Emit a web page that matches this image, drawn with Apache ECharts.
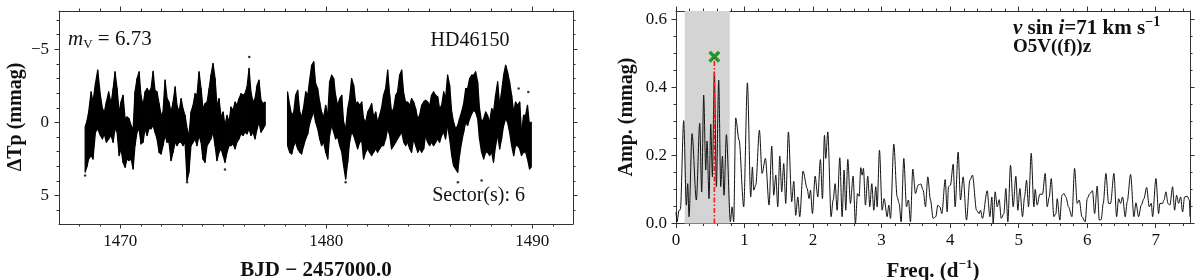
<!DOCTYPE html>
<html><head><meta charset="utf-8">
<script src="https://cdn.jsdelivr.net/npm/echarts@6/dist/echarts.min.js"></script>
<style>html,body{margin:0;padding:0;background:#fff}#c{width:1200px;height:280px}</style>
</head><body><div id="c"></div>
<script>
// ---------------- Light curve (TESS Sector 6), envelope of the point cloud per time bin ----------------
const lcTime = [
 1468.29,1468.38,1468.46,1468.58,1468.67,1468.79,1468.90,1469.03,1469.13,1469.22,
 1469.32,1469.43,1469.55,1469.65,1469.74,1469.84,1469.94,1470.03,1470.13,1470.23,
 1470.32,1470.42,1470.52,1470.62,1470.71,1470.81,1470.91,1471.00,1471.10,1471.20,
 1471.30,1471.39,1471.49,1471.59,1471.68,1471.78,1471.88,1471.98,1472.07,1472.17,
 1472.27,1472.36,1472.46,1472.56,1472.66,1472.75,1472.85,1472.95,1473.04,1473.14,
 1473.24,1473.33,1473.43,1473.53,1473.63,1473.72,1473.82,1473.92,1474.01,1474.11,
 1474.21,1474.31,1474.40,1474.50,1474.60,1474.69,1474.79,1474.89,1474.99,1475.08,
 1475.18,1475.28,1475.37,1475.47,1475.57,1475.66,1475.76,1475.86,1475.96,1476.05,
 1476.15,1476.25,1476.34,1476.44,1476.54,1476.64,1476.73,1476.83,1476.93,1477.02,
 1478.12,1478.22,1478.32,1478.42,1478.51,1478.61,1478.71,1478.80,1478.90,1479.00,
 1479.10,1479.19,1479.29,1479.39,1479.48,1479.58,1479.68,1479.77,1479.87,1479.97,
 1480.07,1480.16,1480.26,1480.36,1480.45,1480.55,1480.65,1480.75,1480.84,1480.94,
 1481.04,1481.13,1481.23,1481.33,1481.43,1481.52,1481.62,1481.72,1481.81,1481.91,
 1482.01,1482.10,1482.20,1482.30,1482.40,1482.49,1482.59,1482.69,1482.78,1482.88,
 1482.98,1483.08,1483.17,1483.27,1483.37,1483.46,1483.56,1483.66,1483.76,1483.85,
 1483.95,1484.05,1484.14,1484.24,1484.34,1484.44,1484.53,1484.63,1484.73,1484.82,
 1484.92,1485.02,1485.11,1485.21,1485.31,1485.41,1485.50,1485.60,1485.70,1485.79,
 1485.89,1485.99,1486.09,1486.18,1486.28,1486.38,1486.47,1486.57,1486.67,1486.77,
 1486.86,1486.96,1487.06,1487.15,1487.25,1487.35,1487.44,1487.54,1487.64,1487.74,
 1487.83,1487.93,1488.03,1488.12,1488.22,1488.32,1488.42,1488.51,1488.61,1488.71,
 1488.80,1488.90,1489.00,1489.10,1489.19,1489.29,1489.39,1489.48,1489.58,1489.68,
 1489.77,1489.87,1489.94
];
// brightest (most negative) edge of the cloud
const lcTop = [
 0.30,-0.10,-0.71,-2.08,-1.39,-2.65,-3.56,-1.85,-0.94,-0.71,
 -1.39,-2.08,-1.28,-2.31,-3.45,-2.31,-0.71,-1.39,-1.85,-0.25,
 -0.37,-0.25,0.21,0.43,-2.08,-2.99,-3.45,-1.85,-1.16,-2.08,
 -2.31,-2.08,-2.31,-3.49,-2.19,-2.08,-1.28,-0.48,-0.71,-2.88,
 -1.62,-1.39,-0.71,-1.39,-2.42,-1.16,-0.71,-1.62,-0.94,-0.48,
 0.43,0.89,-0.71,-1.16,-1.96,-1.85,-3.45,-2.31,-0.94,-1.28,
 -1.39,-2.31,-3.22,-4.02,-2.99,-1.16,-1.62,-0.37,-0.71,0.21,
 -0.48,-0.02,-1.05,-0.82,-1.39,-1.16,-1.62,-1.96,-1.85,-1.96,
 -2.42,-3.68,-2.08,-1.39,-1.62,-2.53,-2.88,-1.51,-1.28,-1.39,
 -2.08,-1.16,-0.48,-0.71,-1.85,-2.19,-0.71,-0.37,-1.05,-2.08,
 -1.85,-2.88,-3.90,-4.13,-2.65,-2.31,-1.39,-0.71,-0.37,-1.16,
 -0.48,-2.76,-3.22,-2.99,-1.85,-1.16,-1.62,-1.85,-0.02,0.43,
 -0.94,-1.62,-2.99,-2.53,-1.28,-1.39,-1.16,-1.39,-0.25,-0.02,
 -0.71,-0.94,-1.28,-0.37,-0.71,-0.02,-0.48,-1.05,-1.85,-2.31,
 -3.56,-1.85,-0.71,-0.94,-1.85,-2.08,-3.22,-3.56,-1.96,-1.39,
 -1.39,-1.16,-1.62,-1.39,-0.94,-0.25,-0.48,-1.16,-1.39,-1.51,
 -1.39,-1.16,-1.85,-2.08,-1.85,-1.74,-0.94,-1.16,-2.08,-1.62,
 -3.22,-2.53,-0.71,-0.02,0.43,0.21,-0.25,-0.71,-1.28,-2.31,
 -2.31,-2.99,-3.22,-3.22,-3.45,-2.76,-0.94,-0.02,-0.25,-0.71,
 -0.48,-0.02,-0.94,-0.71,-1.85,-2.76,-1.16,-2.08,-3.22,-3.90,
 -3.45,-2.76,-1.85,-0.71,-1.39,-1.16,-1.39,0.66,-0.48,-0.48,
 -1.16,0.21,-0.02
];
// faintest (most positive) edge of the cloud
const lcBottom = [
 3.40,3.00,2.49,2.26,2.49,0.66,0.43,0.89,1.12,0.78,
 1.35,1.12,0.89,1.35,0.43,0.66,2.26,1.80,2.72,3.06,
 2.49,2.60,2.49,3.17,1.58,0.66,0.43,1.46,1.35,0.43,
 0.89,0.43,0.43,0.21,0.66,1.12,2.03,2.15,1.58,0.89,
 1.35,1.35,2.60,2.03,1.35,1.58,1.35,1.35,1.58,1.35,
 3.97,3.40,1.58,1.35,1.12,1.58,0.89,1.35,2.49,2.72,
 1.58,1.35,1.12,0.66,1.58,2.60,2.03,1.80,2.26,2.72,
 2.03,1.58,1.58,1.46,1.80,1.35,1.12,0.78,0.89,0.66,
 0.78,0.43,0.89,0.66,1.12,0.43,-0.02,0.66,0.43,0.21,
 1.58,2.03,2.15,1.58,1.35,1.80,2.03,2.15,1.58,1.12,
 0.78,0.09,-0.37,-0.71,-0.02,0.43,1.12,1.58,1.35,2.03,
 2.49,0.89,0.21,0.66,1.12,1.00,1.58,2.03,2.95,3.86,
 2.72,1.35,0.66,0.89,1.35,1.80,1.35,1.23,2.49,2.03,
 1.80,2.03,2.26,2.03,1.80,2.03,1.80,1.58,1.58,1.12,
 0.43,0.89,1.80,1.58,1.35,1.12,0.89,0.66,1.35,1.58,
 1.35,1.80,2.03,1.12,1.58,2.03,1.80,2.03,1.80,0.89,
 1.35,1.58,1.35,1.58,1.35,1.12,1.35,0.89,0.66,1.12,
 0.21,1.12,2.26,2.95,3.17,3.40,2.26,1.35,0.66,-0.02,
 0.21,-0.25,-0.59,-0.82,-0.71,-0.25,1.12,2.03,2.49,2.03,
 2.03,2.26,2.03,2.72,1.58,0.89,1.80,1.12,0.21,-0.25,
 -0.02,0.66,1.58,2.26,1.58,1.58,1.80,2.26,2.03,2.03,
 2.49,3.17,3.06
];
// isolated points outside the dense cloud
const outTime = [1468.29, 1473.24, 1475.08, 1476.26, 1480.94, 1486.39, 1487.54, 1489.34, 1489.81];
const outDmag = [3.63, 4.09, 3.22, -4.47, 4.09, 4.09, 3.97, -2.31, -2.08];

// ---------------- Amplitude spectrum ----------------
const freq = [
 0,0.015,0.044,0.064,0.112,0.151,0.171,0.19,0.234,0.297,
 0.346,0.375,0.404,0.434,0.453,0.482,0.507,0.531,0.56,0.589,
 0.623,0.653,0.677,0.701,0.735,0.794,0.818,0.842,0.871,0.92,
 0.988,1.042,1.09,1.115,1.134,1.164,1.217,1.256,1.305,1.358,
 1.397,1.426,1.456,1.485,1.514,1.543,1.572,1.601,1.64,1.689,
 1.718,1.747,1.777,1.806,1.854,1.913,1.942,1.962,1.991,2.03,
 2.069,2.107,2.137,2.166,2.185,2.215,2.263,2.293,2.322,2.351,
 2.39,2.424,2.453,2.477,2.507,2.545,2.584,2.618,2.648,2.672,
 2.696,2.716,2.735,2.764,2.798,2.828,2.857,2.886,2.915,2.935,
 2.969,3.008,3.037,3.081,3.105,3.13,3.178,3.227,3.256,3.285,
 3.324,3.363,3.392,3.421,3.455,3.494,3.533,3.572,3.606,3.64,
 3.674,3.713,3.752,3.791,3.82,3.85,3.879,3.928,3.957,3.976,
 4.005,4.044,4.073,4.117,4.151,4.19,4.239,4.288,4.326,4.385,
 4.424,4.443,4.472,4.541,4.58,4.609,4.628,4.657,4.687,4.716,
 4.745,4.784,4.813,4.842,4.881,4.92,4.959,4.988,5.017,5.056,
 5.086,5.115,5.144,5.183,5.222,5.241,5.27,5.309,5.348,5.387,
 5.416,5.446,5.475,5.514,5.543,5.562,5.601,5.631,5.66,5.689,
 5.728,5.777,5.816,5.854,5.884,5.923,5.971,6.0,6.039,6.078,
 6.108,6.146,6.176,6.205,6.234,6.273,6.312,6.341,6.39,6.429,
 6.458,6.487,6.516,6.555,6.584,6.633,6.682,6.711,6.75,6.789,
 6.828,6.867,6.906,6.935,6.954,7.003,7.042,7.061,7.1,7.12,
 7.149,7.178,7.207,7.246,7.275,7.304,7.334,7.363,7.392,7.421,
 7.46,7.49,7.5
];
const amp = [
 0.034,0.005,0.039,0.041,0.302,0.054,0.117,0.02,0.264,0.069,
 0.294,0.093,0.377,0.157,0.242,0.073,0.292,0.137,0.445,0.108,
 0.421,0.108,0.198,0.083,0.261,0.005,0.049,0.005,0.31,0.245,
 0.049,0.413,0.078,0.166,0.098,0.113,0.274,0.147,0.191,0.054,
 0.227,0.083,0.142,0.049,0.198,0.093,0.176,0.059,0.269,0.064,
 0.124,0.024,0.078,0.02,0.154,0.103,0.073,0.098,0.029,0.139,
 0.078,0.188,0.073,0.259,0.191,0.269,0.02,0.069,0.117,0.039,
 0.193,0.02,0.157,0.039,0.188,0.059,0.139,0.0,0.088,0.08,
 0.164,0.142,0.162,0.054,0.139,0.049,0.117,0.039,0.108,0.049,
 0.215,0.039,0.073,0.02,0.054,0.015,0.233,0.078,0.059,0.005,
 0.191,0.049,0.069,0.005,0.16,0.088,0.113,0.116,0.098,0.049,
 0.137,0.069,0.015,0.02,0.054,0.049,0.029,0.129,0.034,0.108,
 0.113,0.174,0.049,0.21,0.069,0.137,0.01,0.127,0.142,0.039,
 0.029,0.039,0.015,0.096,0.02,0.078,0.0,0.093,0.049,0.07,
 0.015,0.029,0.103,0.005,0.171,0.049,0.139,0.039,0.103,0.02,
 0.078,0.127,0.049,0.206,0.049,0.1,0.054,0.086,0.086,0.147,
 0.049,0.078,0.132,0.02,0.029,0.073,0.01,0.083,0.088,0.078,
 0.049,0.02,0.162,0.059,0.069,0.02,0.005,0.073,0.088,0.096,
 0.029,0.11,0.01,0.012,0.059,0.147,0.059,0.059,0.147,0.02,
 0.073,0.059,0.078,0.02,0.064,0.144,0.02,0.061,0.02,0.054,
 0.073,0.106,0.049,0.059,0.02,0.132,0.029,0.059,0.059,0.069,
 0.093,0.059,0.054,0.108,0.039,0.083,0.059,0.078,0.034,0.078,
 0.08,0.069,0.02
];
// dominant frequency, its marker and the shaded low-frequency region
const peakFreq = [0.56];
const peakMarkerAmp = [0.49];
const bandRange = [0.127, 0.784];

// ---------------- Axes ----------------
const lcRangeX = [1467.02, 1491.98];
const lcRangeY = [-7.6, 6.93];
const lcTicksX = [1470, 1480, 1490];
const lcTicksY = [-5, 0, 5];
const pgRangeX = [0, 7.5];
const pgRangeY = [0, 0.624];
const pgTicksX = [0, 1, 2, 3, 4, 5, 6, 7];
const pgTicksY = [0, 0.2, 0.4, 0.6];

function stepTicks(a, b, s) { const r = []; for (let k = Math.ceil(a / s - 1e-9); k * s <= b + 1e-9; k++) r.push(+(k * s).toFixed(4)); return r; }
const lcMinorX = stepTicks(lcRangeX[0], lcRangeX[1], 1);
const lcMinorY = stepTicks(lcRangeY[0], lcRangeY[1], 1);
const pgMinorX = stepTicks(pgRangeX[0], pgRangeX[1], 0.2);
const pgMinorY = stepTicks(pgRangeY[0], pgRangeY[1], 0.05);

const FONT = 'Liberation Serif';
const AX = '#333';
const TXT = '#111';

function makeAxes(dim, gi, range, major, minor, nameCfg, inverse) {
  const positions = dim === 'x' ? ['bottom', 'top'] : ['left', 'right'];
  const out = [];
  positions.forEach((pos, pi) => {
    [major, minor].forEach((ticks, ti) => {
      const ax = {
        type: 'value', gridIndex: gi, position: pos, min: range[0], max: range[1], inverse: !!inverse,
        axisLine: { show: ti === 0, onZero: false, lineStyle: { color: AX, width: 1 } },
        axisTick: { show: true, customValues: ticks, length: ti === 0 ? 4.5 : 2.5, lineStyle: { color: AX, width: 1 } },
        axisLabel: { show: false },
        splitLine: { show: false }
      };
      if (pi === 0 && ti === 0 && nameCfg) Object.assign(ax, nameCfg);
      out.push(ax);
    });
  });
  return out;
}

const minusFmt = v => (v < 0 ? '\u2212' + Math.abs(v) : String(v));
const oneDec = v => Number(v).toFixed(1);
const plain = v => String(v);

const xAxes = [].concat(
  makeAxes('x', 0, lcRangeX, lcTicksX, lcMinorX, {
    name: 'BJD \u2212 2457000.0', nameLocation: 'middle', nameGap: 36,
    nameTextStyle: { fontFamily: FONT, fontSize: 21, fontWeight: 'bold', color: TXT }
  }),
  makeAxes('x', 1, pgRangeX, pgTicksX, pgMinorX, {
    name: '{a|Freq. (d}{s|\u22121}{a|)}', nameLocation: 'middle', nameGap: 35,
    nameTextStyle: { fontFamily: FONT, fontSize: 21, fontWeight: 'bold', color: TXT, rich: {
      a: { fontFamily: FONT, fontSize: 21, fontWeight: 'bold', color: TXT, lineHeight: 24, verticalAlign: 'bottom' },
      s: { fontFamily: FONT, fontSize: 13, fontWeight: 'bold', color: TXT, lineHeight: 13, verticalAlign: 'top' } } }
  })
);
const yAxes = [].concat(
  makeAxes('y', 0, lcRangeY, lcTicksY, lcMinorY, null, true),
  makeAxes('y', 1, pgRangeY, pgTicksY, pgMinorY, null)
);

const lcData = lcTime.map((t, i) => [t, lcTop[i], lcBottom[i]]);
const outData = outTime.map((t, i) => [t, outDmag[i]]);
const pgData = freq.map((f, i) => [f, amp[i]]);

// filled envelope between consecutive bins (a gap larger than half a day breaks it)
function renderCloud(params, api) {
  const i = params.dataIndex;
  const t0 = api.value(0), a0 = api.value(1), b0 = api.value(2);
  const nxt = lcData[i + 1];
  if (!nxt || nxt[0] - t0 > 0.5) {
    const p = api.coord([t0, a0]), q = api.coord([t0, b0]);
    return { type: 'line', shape: { x1: p[0], y1: p[1], x2: q[0], y2: q[1] }, style: { stroke: '#000', lineWidth: 1.5 } };
  }
  const pts = [api.coord([t0, a0]), api.coord([nxt[0], nxt[1]]), api.coord([nxt[0], nxt[2]]), api.coord([t0, b0])];
  return { type: 'polygon', shape: { points: pts }, style: { fill: '#000', stroke: '#000', lineWidth: 1.2, lineJoin: 'round' } };
}

// tick labels placed through the axes' own scales
function tickLabelSeries(xi, yi, dim, values, anchor, fmt, offset) {
  return {
    type: 'custom', xAxisIndex: xi, yAxisIndex: yi, silent: true, clip: false, z: 10,
    data: values.map(v => dim === 'x' ? [v, anchor] : [anchor, v]),
    renderItem: (params, api) => {
      const p = api.coord([api.value(0), api.value(1)]);
      const v = dim === 'x' ? api.value(0) : api.value(1);
      return {
        type: 'text',
        style: {
          text: fmt(v), x: dim === 'x' ? p[0] : p[0] - offset, y: dim === 'x' ? p[1] + offset : p[1],
          font: '17px "Liberation Serif"', fill: TXT,
          textAlign: dim === 'x' ? 'center' : 'right', textVerticalAlign: dim === 'x' ? 'top' : 'middle'
        }
      };
    }
  };
}

const chart = echarts.init(document.getElementById('c'), null, { renderer: 'canvas' });
chart.setOption({
  animation: false,
  backgroundColor: '#fff',
  textStyle: { fontFamily: FONT },
  grid: [
    { left: 59, top: 11, width: 514, height: 213, containLabel: false, outerBoundsMode: 'none' },
    { left: 676, top: 11, width: 514, height: 212.5, containLabel: false, outerBoundsMode: 'none' }
  ],
  xAxis: xAxes,
  yAxis: yAxes,
  series: [
    {
      type: 'custom', xAxisIndex: 0, yAxisIndex: 0, data: lcData, silent: true, clip: true,
      encode: { x: 0, y: [1, 2] }, renderItem: renderCloud
    },
    {
      type: 'scatter', xAxisIndex: 0, yAxisIndex: 0, data: outData, symbolSize: 2.5, silent: true,
      itemStyle: { color: '#000' }
    },
    {
      type: 'custom', xAxisIndex: 4, yAxisIndex: 4, data: [bandRange], silent: true, z: 1,
      encode: { x: [0, 1] },
      renderItem: (params, api) => {
        const a = api.coord([api.value(0), pgRangeY[1]]);
        const b = api.coord([api.value(1), pgRangeY[0]]);
        return { type: 'rect', shape: { x: a[0], y: a[1], width: b[0] - a[0], height: b[1] - a[1] }, style: { fill: '#d4d4d4' } };
      }
    },
    {
      type: 'line', xAxisIndex: 4, yAxisIndex: 4, data: pgData, showSymbol: false, silent: true, z: 3,
      smooth: 0.3, smoothMonotone: 'x',
      lineStyle: { color: '#111', width: 1 }
    },
    {
      type: 'line', xAxisIndex: 4, yAxisIndex: 4, silent: true, z: 4, showSymbol: false,
      data: [[peakFreq[0], 0], [peakFreq[0], peakMarkerAmp[0]]],
      lineStyle: { color: '#ff1a1a', width: 1.6, type: [5, 2, 1.5, 2] }
    },
    {
      type: 'scatter', xAxisIndex: 4, yAxisIndex: 4, silent: true, z: 5,
      data: [[peakFreq[0], peakMarkerAmp[0]]],
      symbol: 'path://M2,0 L5,3 L8,0 L10,2 L7,5 L10,8 L8,10 L5,7 L2,10 L0,8 L3,5 L0,2 Z',
      symbolSize: 12, itemStyle: { color: '#008000' }
    },
    tickLabelSeries(0, 0, 'x', lcTicksX, lcRangeY[1], plain, 9),
    tickLabelSeries(0, 0, 'y', lcTicksY, lcRangeX[0], minusFmt, 10),
    tickLabelSeries(4, 4, 'x', pgTicksX, pgRangeY[0], plain, 9),
    tickLabelSeries(4, 4, 'y', pgTicksY, pgRangeX[0], oneDec, 9)
  ],
  graphic: [
    { type: 'text', x: 16, y: 117, rotation: Math.PI / 2, silent: true, style: {
        text: '\u0394Tp (mmag)', font: 'bold 20px "Liberation Serif"', fill: TXT, textAlign: 'center', textVerticalAlign: 'middle' } },
    { type: 'text', x: 627, y: 117, rotation: Math.PI / 2, silent: true, style: {
        text: 'Amp. (mmag)', font: 'bold 20px "Liberation Serif"', fill: TXT, textAlign: 'center', textVerticalAlign: 'middle' } },
    { type: 'text', x: 68, y: 39, silent: true, style: {
        text: '{m|m}{v|V}{n| = 6.73}', textVerticalAlign: 'middle', fill: TXT,
        rich: {
          m: { fontFamily: FONT, fontStyle: 'italic', fontSize: 21, lineHeight: 24, verticalAlign: 'middle', fill: TXT },
          v: { fontFamily: FONT, fontSize: 13, lineHeight: 13, verticalAlign: 'bottom', fill: TXT },
          n: { fontFamily: FONT, fontSize: 21, lineHeight: 24, verticalAlign: 'middle', fill: TXT }
        } } },
    { type: 'text', x: 470, y: 41, silent: true, style: {
        text: 'HD46150', font: '20px "Liberation Serif"', fill: TXT, textAlign: 'center', textVerticalAlign: 'middle' } },
    { type: 'text', x: 525, y: 196, silent: true, style: {
        text: 'Sector(s): 6', font: '20px "Liberation Serif"', fill: TXT, textAlign: 'right', textVerticalAlign: 'middle' } },
    { type: 'text', x: 1013, y: 27, silent: true, style: {
        text: '{i|v}{r| sin }{i|i}{r|=71 km s}{s|\u22121}', textVerticalAlign: 'middle', fill: TXT,
        rich: {
          i: { fontFamily: FONT, fontStyle: 'italic', fontWeight: 'bold', fontSize: 21, lineHeight: 24, verticalAlign: 'bottom', fill: TXT },
          r: { fontFamily: FONT, fontWeight: 'bold', fontSize: 21, lineHeight: 24, verticalAlign: 'bottom', fill: TXT },
          s: { fontFamily: FONT, fontWeight: 'bold', fontSize: 14, lineHeight: 14, verticalAlign: 'top', fill: TXT }
        } } },
    { type: 'text', x: 1013, y: 47, silent: true, style: {
        text: 'O5V((f))z', font: 'bold 19px "Liberation Serif"', fill: TXT, textAlign: 'left', textVerticalAlign: 'middle' } }
  ]
});
</script></body></html>
